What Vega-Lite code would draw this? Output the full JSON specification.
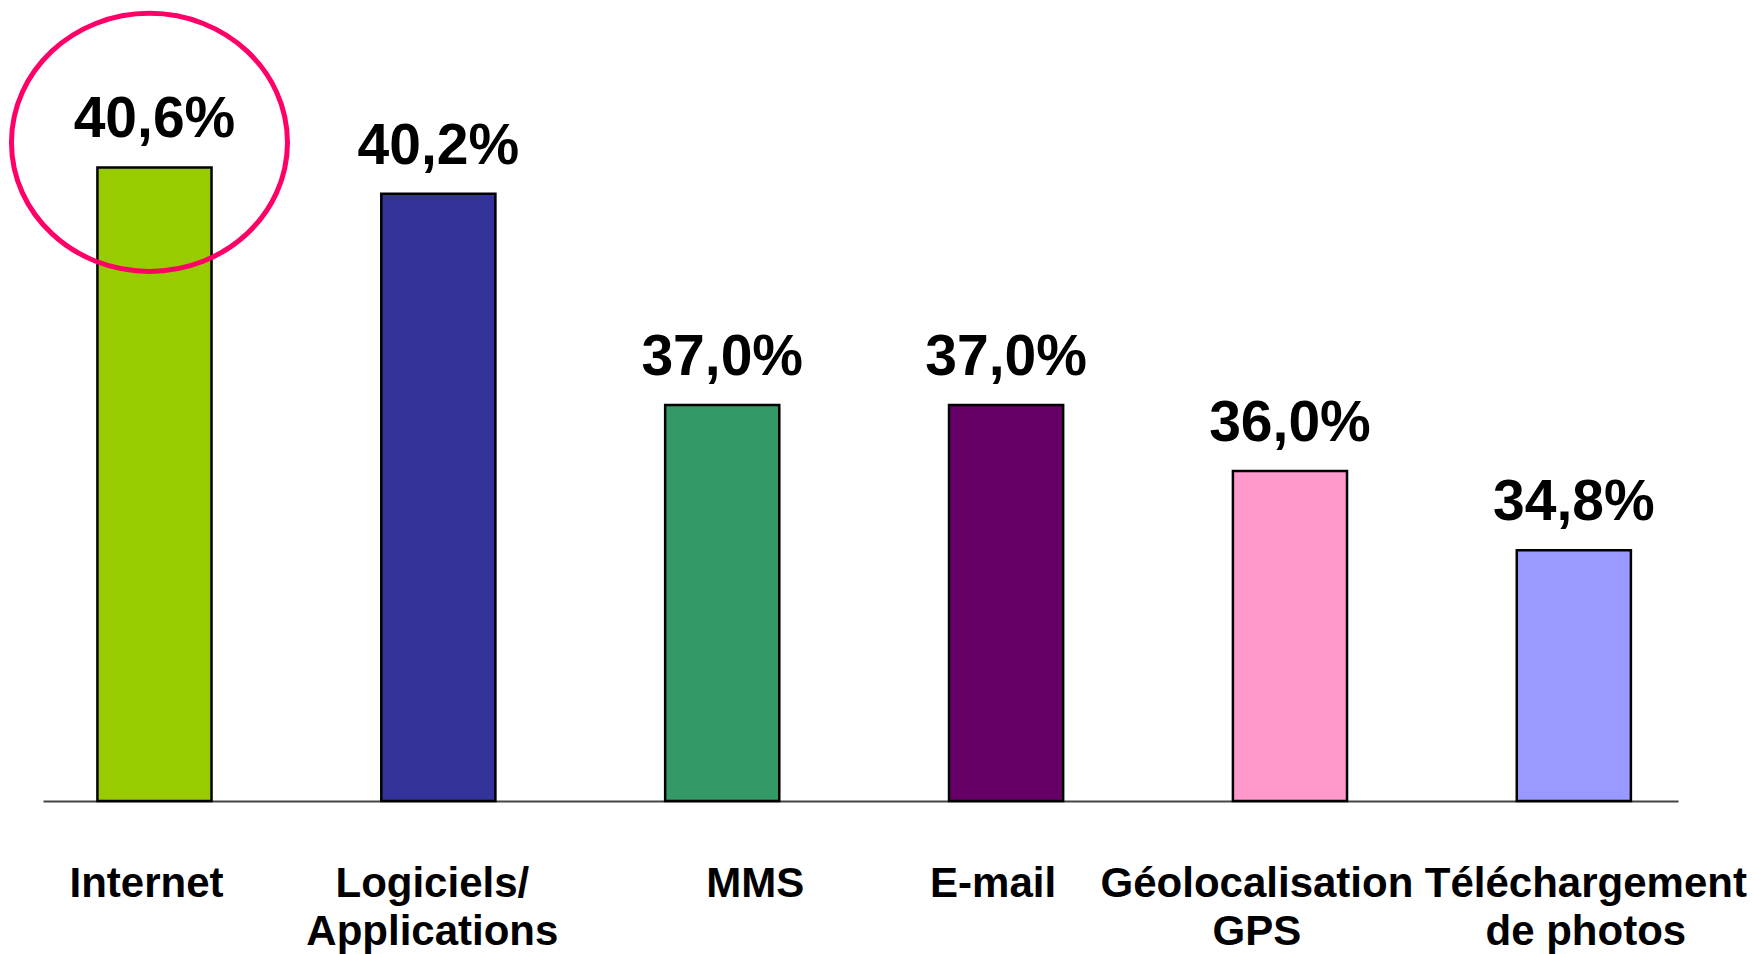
{
  "$schema": "https://vega.github.io/schema/vega-lite/v6.json",
  "autosize": "none",
  "width": 1635,
  "height": 801,
  "padding": {"left": 43, "top": 0, "right": 78, "bottom": 153},
  "background": "white",
  "config": {
    "view": {"stroke": null},
    "font": "Liberation Sans",
    "locale": {"number": {"decimal": ",", "thousands": " ", "grouping": [3], "currency": ["", " €"]}}
  },
  "data": {
    "values": [
      {"cat": "Internet", "value": 0.406, "color": "Internet"},
      {"cat": "Logiciels/\nApplications", "value": 0.402, "color": "Logiciels"},
      {"cat": "MMS", "value": 0.370, "color": "MMS"},
      {"cat": "E-mail", "value": 0.370, "color": "E-mail"},
      {"cat": "Géolocalisation\nGPS", "value": 0.360, "color": "GPS"},
      {"cat": "Téléchargement\nde photos", "value": 0.348, "color": "Photos"}
    ]
  },
  "encoding": {
    "x": {
      "field": "cat",
      "type": "nominal",
      "sort": null,
      "scale": {"paddingInner": 0.598, "paddingOuter": 0.1788, "align": 0.536},
      "axis": {
        "title": null,
        "ticks": false,
        "domainColor": "#444444",
        "domainWidth": 2,
        "labelAngle": 0,
        "labelFont": "Liberation Sans",
        "labelFontWeight": "bold",
        "labelFontSize": 42,
        "labelColor": "black",
        "labelPadding": 62,
        "labelLineHeight": 48,
        "labelBaseline": "top",
        "labelLimit": 0,
        "labelExpr": "split(datum.label, '\\n')",
        "labelOffset": {"expr": "datum.value === 'Internet' ? -8 : datum.value === 'MMS' ? 33 : datum.value === 'E-mail' ? -13 : indexof(datum.value, 'Géo') === 0 ? -33 : indexof(datum.value, 'Télé') === 0 ? 12 : -6"}
      }
    },
    "y": {
      "field": "value",
      "type": "quantitative",
      "scale": {"domain": [0.31, 0.43136], "zero": false, "nice": false, "clamp": true},
      "axis": null
    }
  },
  "layer": [
    {
      "mark": {"type": "bar", "stroke": "black", "strokeWidth": 2.5},
      "encoding": {
        "color": {
          "field": "color",
          "type": "nominal",
          "scale": {
            "domain": ["Internet", "Logiciels", "MMS", "E-mail", "GPS", "Photos"],
            "range": ["#99CC00", "#333399", "#339966", "#660066", "#FF99CC", "#9999FF"]
          },
          "legend": null
        }
      }
    },
    {
      "mark": {"type": "text", "font": "Liberation Sans", "fontWeight": "bold", "fontSize": 57, "baseline": "alphabetic", "dy": -30, "color": "black"},
      "encoding": {
        "text": {"field": "value", "type": "quantitative", "format": ".1%"}
      }
    },
    {
      "transform": [{"filter": "datum.cat === 'Internet'"}],
      "mark": {
        "type": "point",
        "shape": "M-1,0A1,0.935 0 1,1 1,0A1,0.935 0 1,1 -1,0Z",
        "size": 76176,
        "filled": false,
        "stroke": "#FF0066",
        "strokeWidth": 5,
        "opacity": 1,
        "yOffset": -25,
        "xOffset": -5
      }
    }
  ]
}
